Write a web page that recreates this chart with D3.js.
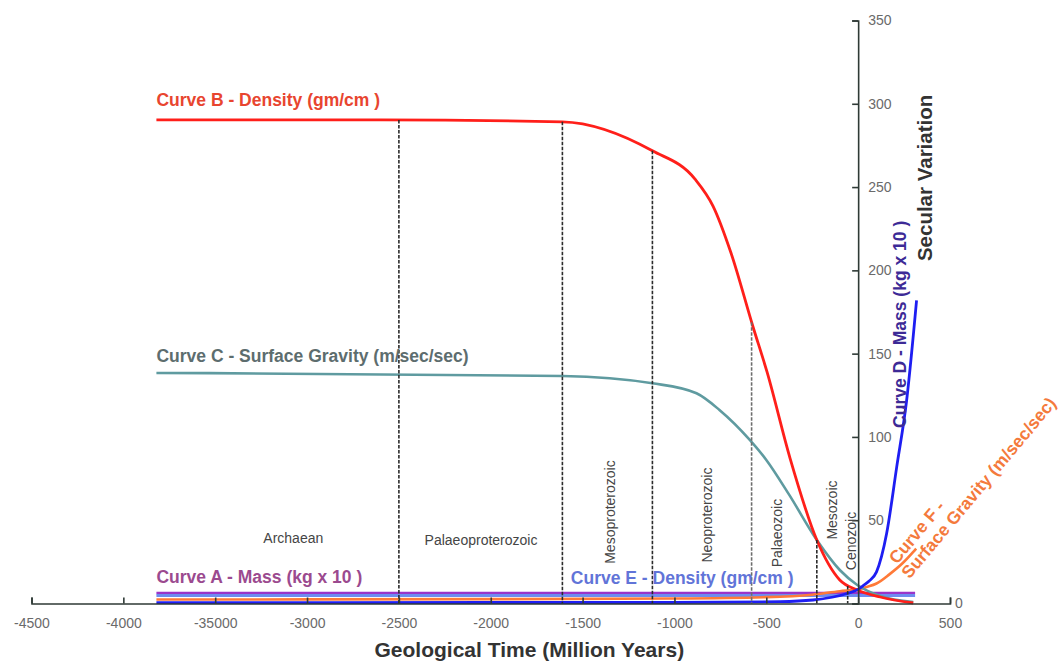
<!DOCTYPE html>
<html>
<head>
<meta charset="utf-8">
<script src="https://cdn.jsdelivr.net/npm/d3@7"></script>
<style>
  html, body { margin: 0; padding: 0; background: #fff; }
  svg { display: block; font-family: "Liberation Sans", Arial, Helvetica, sans-serif; }
</style>
</head>
<body>
<svg id="chart" width="1062" height="662"></svg>
<script>
// ---- Axis ticks ----
const xTickValues = [-4500, -4000, -3500, -3000, -2500, -2000, -1500, -1000, -500, 0, 500];
const xTickLabels = ["-4500", "-4000", "-35000", "-3000", "-2500", "-2000", "-1500", "-1000", "-500", "0", "500"];
const yTickValues = [0, 50, 100, 150, 200, 250, 300, 350];

// ---- Curve B : density ----
const densityYears  = [-3820, -2600, -1610, -1120, -888, -790, -692, -572, -496, -371, -225, -100, -5, 120, 300];
const densityValues = [290.3, 290.3, 289.2, 271.8, 254.8, 238.6, 210.4, 166.0, 139.0, 87.3, 38.1, 14.1, 8.1, 3.9, 0.3];

// ---- Curve C : surface gravity ----
const gravityYears  = [-3820, -1610, -1120, -880, -755, -590, -500, -375, -225, -100, -5, 120, 300];
const gravityValues = [138.4, 136.6, 132.2, 126.2, 116.2, 98.2, 86.2, 65.2, 38.1, 20.1, 11.1, 4.5, 0.9];

// ---- Curve D : mass ----
const massDYears  = [-3820, -2000, -1000, -425, -245, -60, 0, 25, 60, 100, 155, 210, 264, 318];
const massDValues = [0.5, 0.6, 0.6, 1.1, 2.1, 6, 8.5, 10.5, 13.5, 19, 42, 82, 122, 182];

// ---- Curve F : surface gravity ----
const gravityFYears  = [-3820, -2000, -1000, -500, -250, -100, 0, 45, 100, 170, 240, 300, 316];
const gravityFValues = [2.4, 2.6, 3.0, 3.8, 5.3, 7.4, 8.5, 9.9, 12, 17.5, 24, 31, 33];

// ---- Curve A : mass, Curve E : density ----
const massAYears  = [-3820, 310];
const massAValues = [6.3, 6.3];
const densityEYears  = [-3820, 310];
const densityEValues = [4.8, 4.8];

// ---- Geological eras ----
const eraNames = ["Archaean", "Palaeoproterozoic", "Mesoproterozoic", "Neoproterozoic", "Palaeozoic", "Mesozoic", "Cenozoic"];
const eraBoundaries = [-2500, -1610, -1120, -580, -225, -57];

// ---- Scales ----
const svg = d3.select("#chart");
const x = d3.scaleLinear().domain([-4500, 500]).range([31.5, 950]);
const y = d3.scaleLinear().domain([0, 350]).range([603.5, 20.5]);

const line = d3.line()
  .x(d => x(d[0]))
  .y(d => y(d[1]))
  .curve(d3.curveMonotoneX);

const pairs = (xs, vs) => xs.map((v, i) => [v, vs[i]]);

const series = [
  { pts: pairs(massAYears, massAValues),       color: "#9b35c9", width: 2.4 },
  { pts: pairs(densityEYears, densityEValues), color: "#6e8cf0", width: 3 },
  { pts: pairs(gravityFYears, gravityFValues), color: "#ff7a38", width: 2.6 },
  { pts: pairs(gravityYears, gravityValues),   color: "#5f9ba0", width: 2.6 },
  { pts: pairs(densityYears, densityValues),   color: "#ff1f1a", width: 2.8, id: "densityB" },
  { pts: pairs(massDYears, massDValues),       color: "#1e1ef2", width: 2.8 }
];

const curves = svg.append("g").attr("class", "curves");
series.forEach(s => {
  const p = curves.append("path")
    .datum(s.pts)
    .attr("d", line)
    .attr("fill", "none")
    .attr("stroke", s.color)
    .attr("stroke-width", s.width)
    .attr("stroke-linejoin", "round");
  if (s.id) p.attr("id", s.id);
});

// ---- Era boundary lines: from the density curve down to the time axis ----
const densityPath = document.getElementById("densityB");
const totalLen = densityPath.getTotalLength();
function densityYAt(px) {
  let lo = 0, hi = totalLen;
  for (let i = 0; i < 40; i++) {
    const mid = (lo + hi) / 2;
    if (densityPath.getPointAtLength(mid).x < px) lo = mid; else hi = mid;
  }
  return densityPath.getPointAtLength((lo + hi) / 2).y;
}

svg.append("g").attr("class", "eras")
  .selectAll("line")
  .data(eraBoundaries)
  .join("line")
  .attr("x1", d => x(d)).attr("x2", d => x(d))
  .attr("y1", d => densityYAt(x(d)))
  .attr("y2", y(0))
  .attr("stroke", (d, i) => i === 3 ? "#6d6d6d" : "#2b2b2b")
  .attr("stroke-width", 1.6)
  .attr("stroke-dasharray", "3.5,1.5");

// ---- Axes ----
const axisColor = "#2f3a36";
const xAxis = svg.append("g")
  .attr("transform", `translate(0,${y(0)})`)
  .call(d3.axisBottom(x)
    .tickValues(xTickValues)
    .tickFormat((d, i) => xTickLabels[i])
    .tickSize(-6)
    .tickPadding(15));

const yAxis = svg.append("g")
  .attr("transform", `translate(${x(0)},0)`)
  .call(d3.axisRight(y)
    .tickValues(yTickValues)
    .tickSize(-6)
    .tickPadding(10));

[xAxis, yAxis].forEach(g => {
  g.select(".domain").attr("stroke", axisColor).attr("stroke-width", 1.6);
  g.selectAll(".tick line").attr("stroke", axisColor).attr("stroke-width", 1.6);
  g.selectAll(".tick text")
    .attr("fill", "#6a6a6a")
    .style("font-size", "14px")
    .style("font-family", "'Liberation Sans', Arial, sans-serif");
});
// the zero of the vertical scale sits at the far end of the time axis
yAxis.selectAll(".tick").filter(d => d === 0)
  .select("text").attr("x", x(500) - x(0) + 5);

// ---- Era names ----
const eraLabelLayout = [
  { year: -3075, value: 39.3, vertical: false },
  { year: -2053, value: 38.1, vertical: false },
  { year: -1351, value: 54.9, vertical: true },
  { year: -823,  value: 53.1, vertical: true },
  { year: -442,  value: 42.3, vertical: true },
  { year: -142,  value: 56.1, vertical: true },
  { year: -39,   value: 37.5, vertical: true }
];
svg.append("g").attr("class", "era-names")
  .selectAll("text")
  .data(eraNames)
  .join("text")
  .attr("transform", (d, i) => {
    const L = eraLabelLayout[i];
    return `translate(${x(L.year)},${y(L.value)})` + (L.vertical ? " rotate(-90)" : "");
  })
  .attr("text-anchor", "middle")
  .attr("dominant-baseline", "central")
  .attr("fill", "#454545")
  .style("font-size", "14px")
  .text(d => d);

// ---- Curve labels ----
const labelFont = "17.5px";
function curveLabel(text, year, value, color, rotate) {
  return svg.append("text")
    .attr("transform", `translate(${x(year)},${y(value)})` + (rotate ? ` rotate(${rotate})` : ""))
    .attr("fill", color)
    .style("font-size", labelFont)
    .style("font-weight", "bold")
    .text(text);
}
curveLabel("Curve B - Density (gm/cm )", -3820, 298.7, "#e8452f");
curveLabel("Curve C - Surface Gravity (m/sec/sec)", -3820, 145, "#5d6d6e");
curveLabel("Curve A - Mass (kg x 10  )", -3820, 12.3, "#9b4a8f");
curveLabel("Curve E - Density (gm/cm )", -1564, 11.7, "#6174d8");
curveLabel("Curve D - Mass (kg x 10  )", 260, 105.4, "#3d2a96", -90);

const fLabel = svg.append("text")
  .attr("transform", `translate(${x(211)},${y(23.1)}) rotate(-50)`)
  .attr("fill", "#f47a3c")
  .style("font-size", labelFont)
  .style("font-weight", "bold");
fLabel.append("tspan").attr("x", 0).attr("y", 0).text("Curve F -");
fLabel.append("tspan").attr("x", -3).attr("y", 19).text("Surface Gravity (m/sec/sec)");

// ---- Axis titles ----
svg.append("text")
  .attr("x", x(-1790)).attr("y", 657)
  .attr("text-anchor", "middle")
  .attr("fill", "#333")
  .style("font-size", "21px")
  .style("font-weight", "bold")
  .text("Geological Time (Million Years)");

svg.append("text")
  .attr("transform", `translate(${x(0) + 74},${y(255.5)}) rotate(-90)`)
  .attr("text-anchor", "middle")
  .attr("fill", "#333")
  .style("font-size", "20.5px")
  .style("font-weight", "bold")
  .text("Secular Variation");
</script>
</body>
</html>
